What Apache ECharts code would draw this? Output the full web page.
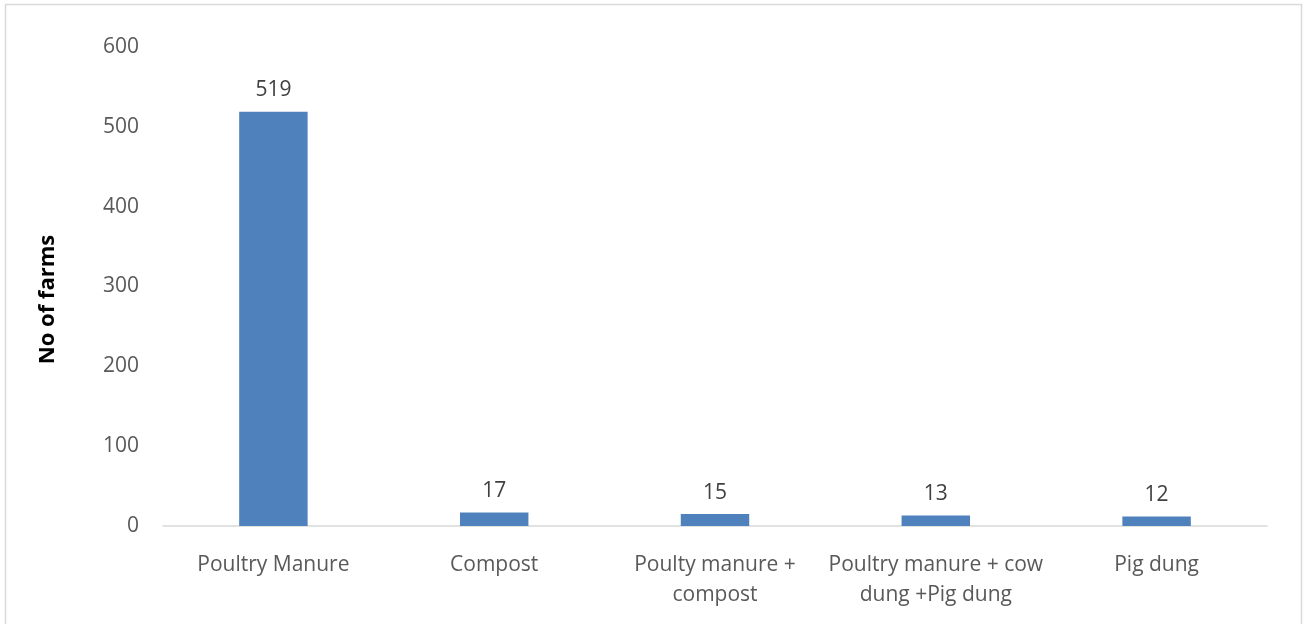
<!DOCTYPE html>
<html>
<head>
<meta charset="utf-8">
<script src="https://cdn.jsdelivr.net/npm/echarts@6/dist/echarts.min.js"></script>
<style>
  html, body { margin: 0; padding: 0; background: #fff; }
  #chart { width: 1303px; height: 624px; }
</style>
</head>
<body>
<div id="chart"></div>
<script>
// Manure types used on farms and the number of farms using each
const categories = [
  'Poultry Manure',
  'Compost',
  'Poulty manure +\ncompost',
  'Poultry manure + cow\ndung +Pig dung',
  'Pig dung'
];
const farmCounts = [519, 17, 15, 13, 12];
const yTicks = { min: 0, max: 600, interval: 100 };
const yAxisTitle = 'No of farms';

const font = '"Open Sans", "Liberation Sans", sans-serif';
const chart = echarts.init(document.getElementById('chart'));

chart.setOption({
  animation: false,
  backgroundColor: '#ffffff',
  graphic: [{
    type: 'rect',
    shape: { x: 5.5, y: 4.5, width: 1296, height: 660 },
    style: { fill: 'none', stroke: '#d9d9d9', lineWidth: 1.5 },
    silent: true,
    z: -1
  }],
  grid: { left: 163, right: 36, top: 47, bottom: 98, containLabel: false },
  xAxis: {
    type: 'category',
    data: categories,
    axisLine: { show: true, lineStyle: { color: '#d9d9d9', width: 1.5 } },
    axisTick: { show: false },
    axisLabel: {
      color: '#595959',
      fontFamily: font,
      fontSize: 21,
      lineHeight: 30,
      margin: 24,
      interval: 0
    }
  },
  yAxis: {
    type: 'value',
    min: yTicks.min,
    max: yTicks.max,
    interval: yTicks.interval,
    name: yAxisTitle,
    nameLocation: 'middle',
    nameGap: 104,
    nameTextStyle: {
      color: '#000000',
      fontFamily: font,
      fontSize: 22,
      fontWeight: 'bold',
      padding: [0, 0, 0, -26]
    },
    axisLine: { show: false },
    axisTick: { show: false },
    splitLine: { show: false },
    axisLabel: {
      color: '#595959',
      fontFamily: font,
      fontSize: 21,
      margin: 24
    }
  },
  series: [{
    type: 'bar',
    data: farmCounts,
    barWidth: '31%',
    itemStyle: { color: '#4f81bd' },
    label: {
      show: true,
      position: 'top',
      distance: 11,
      color: '#404040',
      fontFamily: font,
      fontSize: 21
    }
  }]
});
</script>
</body>
</html>
